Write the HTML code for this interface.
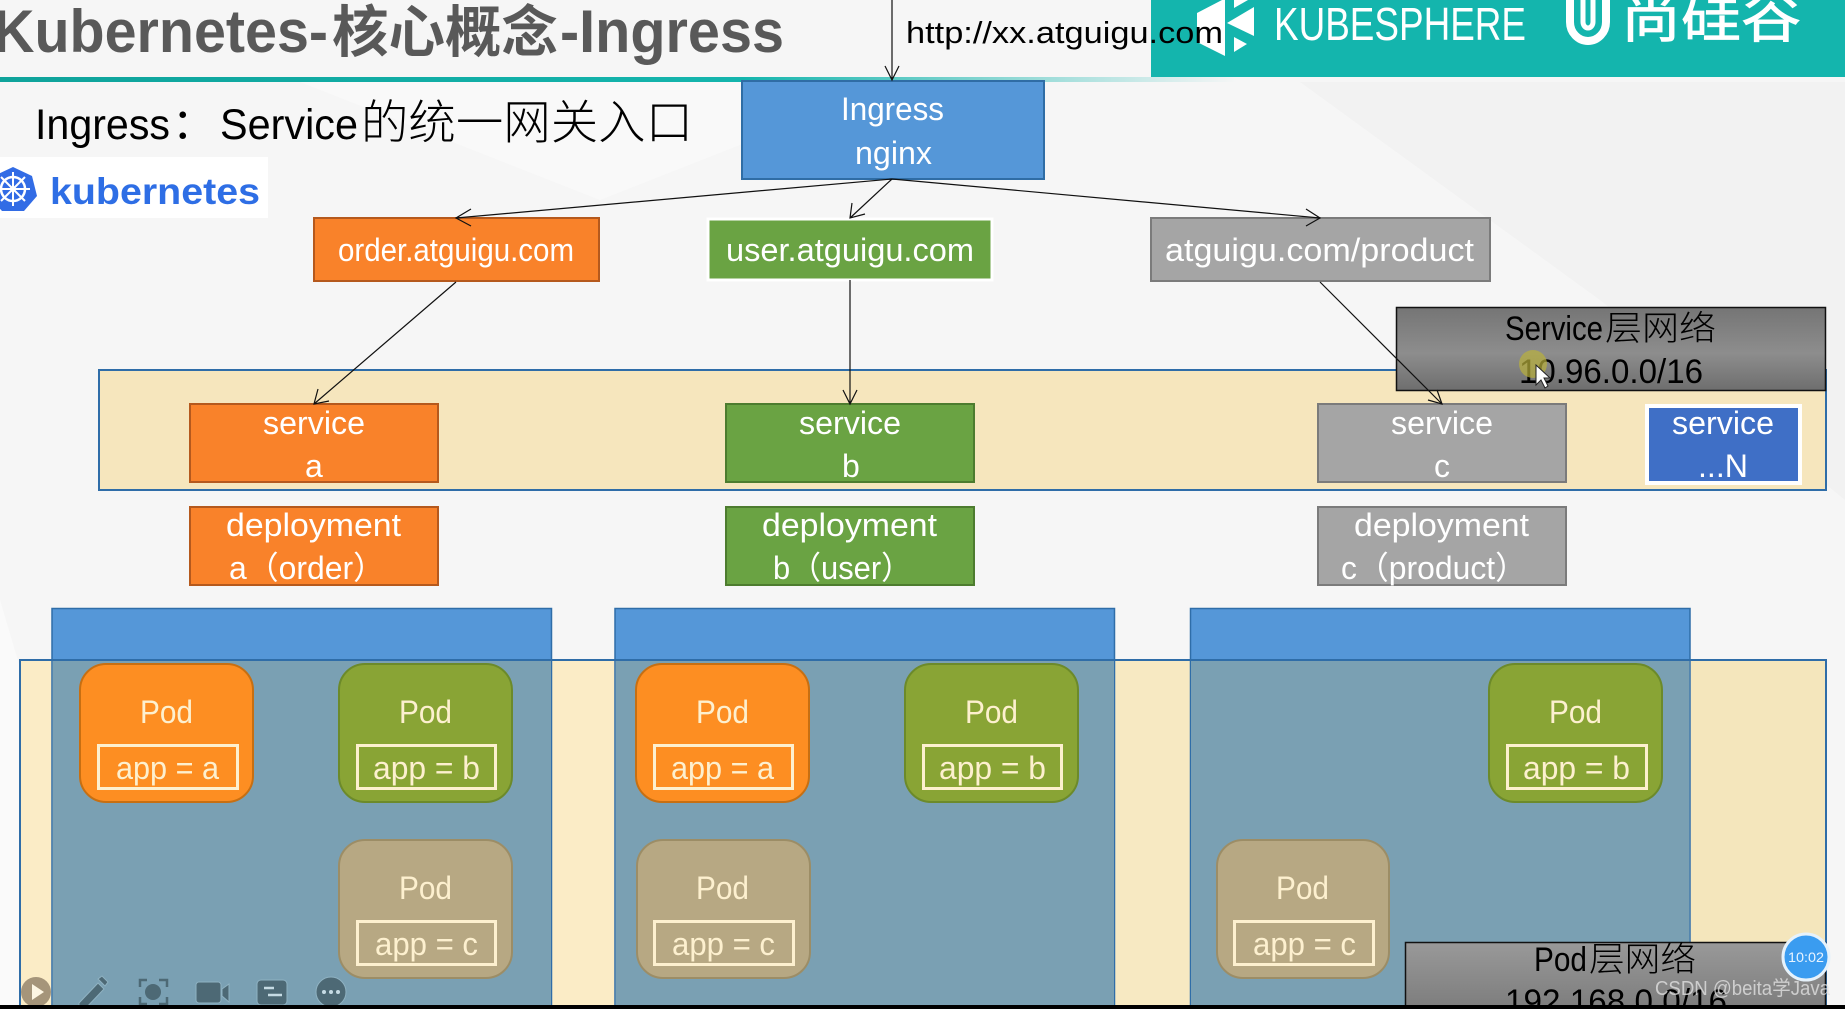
<!DOCTYPE html>
<html><head><meta charset="utf-8"><title>Kubernetes Ingress</title>
<style>
html,body{margin:0;padding:0;width:1845px;height:1009px;overflow:hidden;background:#f6f6f6}
svg{display:block}
text{font-family:"Liberation Sans","Noto Sans CJK SC",sans-serif}
.w{fill:#fff;font-size:32px}
.p{fill:#fdf0cf;font-size:32px}
.k{fill:#000;font-size:34px}
.a{fill:none;stroke:#111;stroke-width:1.2}
.i{fill:#4d6975;stroke:#8fb2c2;stroke-width:1}
</style></head><body>
<svg width="1845" height="1009" viewBox="0 0 1845 1009" xmlns="http://www.w3.org/2000/svg">
<defs>
<linearGradient id="hl" x1="0" x2="1" y1="0" y2="0"><stop offset="0" stop-color="#0fa39b"/><stop offset=".6" stop-color="#14b5ad"/><stop offset="1" stop-color="#14b5ad" stop-opacity="0"/></linearGradient>
<linearGradient id="gb" x1="0" x2="0" y1="0" y2="1"><stop offset="0" stop-color="#757575"/><stop offset=".55" stop-color="#8d8d8d"/><stop offset="1" stop-color="#6e6e6e"/></linearGradient>
<linearGradient id="gb2" x1="0" x2="0" y1="0" y2="1"><stop offset="0" stop-color="#999"/><stop offset="1" stop-color="#777"/></linearGradient>
</defs>
<rect width="1845" height="1009" fill="#f6f6f6"/>
<polygon points="1300,82 1845,82 1845,500 1600,300" fill="#f2f2f2"/>
<polygon points="0,600 120,1005 0,1005" fill="#fafafa"/>
<polygon points="300,82 900,82 600,200" fill="#f9f9f9"/>

<!-- header -->
<rect x="0" y="77" width="1237" height="5" fill="url(#hl)"/>
<rect x="1151" y="0" width="694" height="77" fill="#14b5ad"/>
<polygon points="1197,13 1222,0 1225,0 1225,56 1197,42" fill="#fff"/>
<polygon points="1227,23 1254,7 1254,36" fill="#fff"/>
<polygon points="1234,0 1248,0 1234,8" fill="#fff"/>
<polygon points="1234,37 1247,44 1234,52" fill="#fff"/>
<text x="1274" y="40" font-size="46" fill="#fff" textLength="252" lengthAdjust="spacingAndGlyphs">KUBESPHERE</text>
<path d="M1570,0 V22 A18,19 0 0 0 1606,22 V0" fill="none" stroke="#fff" stroke-width="8"/>
<path d="M1583,0 V22 A5,6 0 0 0 1593,22 V0" fill="none" stroke="#fff" stroke-width="5"/>
<text x="1621" y="37" font-size="54" fill="#fff" stroke="#fff" stroke-width=".8" textLength="180" lengthAdjust="spacingAndGlyphs" style="font-family:'Noto Sans CJK SC',sans-serif">尚硅谷</text>

<text x="-7" y="52" font-size="60" font-weight="700" fill="#595959" textLength="335" lengthAdjust="spacingAndGlyphs">Kubernetes-</text>
<text x="332" y="52" font-size="56" font-weight="700" fill="#595959" textLength="226" lengthAdjust="spacingAndGlyphs" style="font-family:'Noto Sans CJK SC',sans-serif">核心概念</text>
<text x="560" y="52" font-size="60" font-weight="700" fill="#595959" textLength="224" lengthAdjust="spacingAndGlyphs">-Ingress</text>

<text x="906" y="43" font-size="31" fill="#000" textLength="317" lengthAdjust="spacingAndGlyphs">http://xx.atguigu.com</text>

<text x="35" y="139" font-size="43" fill="#000" textLength="135" lengthAdjust="spacingAndGlyphs">Ingress</text>
<text x="172" y="139" font-size="43" fill="#000">：</text>
<text x="220" y="139" font-size="43" fill="#000" textLength="138" lengthAdjust="spacingAndGlyphs">Service</text>
<text x="361" y="139" font-size="47" fill="#000" textLength="332" lengthAdjust="spacingAndGlyphs" style="font-family:'Noto Sans CJK SC',sans-serif;font-weight:300">的统一网关入口</text>

<!-- k8s logo -->
<rect x="0" y="157" width="268" height="61" fill="#fff"/>
<polygon points="13,167 32,176 37,196 24,211 2,211 -11,196 -6,176" fill="#326ce5"/>
<circle cx="13" cy="189" r="12" fill="none" stroke="#fff" stroke-width="2.5"/>
<path d="M13,172 V206 M-3,189 H30 M1,177 L25,201 M25,177 L1,201" stroke="#fff" stroke-width="2"/>
<circle cx="13" cy="189" r="3" fill="#fff"/>
<text x="50" y="204" font-size="37" font-weight="700" fill="#2e6ee5" textLength="210" lengthAdjust="spacingAndGlyphs">kubernetes</text>

<!-- service band -->
<rect x="99" y="370" width="1727" height="120" fill="#f6e6bd" stroke="#2f6da8" stroke-width="2"/>

<!-- top boxes -->
<rect x="742" y="81" width="302" height="98" fill="#5597d8" stroke="#2f6da5" stroke-width="2"/>
<text class="w" x="841" y="120" textLength="103" lengthAdjust="spacingAndGlyphs">Ingress</text>
<text class="w" x="855" y="164" textLength="77" lengthAdjust="spacingAndGlyphs">nginx</text>

<rect x="314" y="218" width="285" height="63" fill="#f9822a" stroke="#b5591d" stroke-width="2"/>
<text class="w" x="338" y="261" textLength="236" lengthAdjust="spacingAndGlyphs">order.atguigu.com</text>
<rect x="708" y="219" width="284" height="61" fill="#6aa343" stroke="#fff" stroke-width="3"/>
<text class="w" x="726" y="261" textLength="248" lengthAdjust="spacingAndGlyphs">user.atguigu.com</text>
<rect x="1151" y="218" width="339" height="63" fill="#a5a5a5" stroke="#7b7b7b" stroke-width="2"/>
<text class="w" x="1165" y="261" textLength="309" lengthAdjust="spacingAndGlyphs">atguigu.com/product</text>

<!-- services -->
<rect x="190" y="404" width="248" height="78" fill="#f9822a" stroke="#b5591d" stroke-width="2"/>
<text class="w" x="263" y="434" textLength="102" lengthAdjust="spacingAndGlyphs">service</text>
<text class="w" x="305" y="477">a</text>
<rect x="726" y="404" width="248" height="78" fill="#6aa343" stroke="#4d7c2f" stroke-width="2"/>
<text class="w" x="799" y="434" textLength="102" lengthAdjust="spacingAndGlyphs">service</text>
<text class="w" x="842" y="477">b</text>
<rect x="1318" y="404" width="248" height="78" fill="#a5a5a5" stroke="#7b7b7b" stroke-width="2"/>
<text class="w" x="1391" y="434" textLength="102" lengthAdjust="spacingAndGlyphs">service</text>
<text class="w" x="1434" y="477">c</text>
<rect x="1647" y="406" width="153" height="77" fill="#3f6fc6" stroke="#fff" stroke-width="4"/>
<text class="w" x="1672" y="434" textLength="102" lengthAdjust="spacingAndGlyphs">service</text>
<text class="w" x="1698" y="477" textLength="50" lengthAdjust="spacingAndGlyphs">...N</text>

<!-- deployments -->
<rect x="190" y="507" width="248" height="78" fill="#f9822a" stroke="#b5591d" stroke-width="2"/>
<text class="w" x="226" y="536" textLength="175" lengthAdjust="spacingAndGlyphs">deployment</text>
<text class="w" x="229" y="579" textLength="156" lengthAdjust="spacingAndGlyphs">a（order）</text>
<rect x="726" y="507" width="248" height="78" fill="#6aa343" stroke="#4d7c2f" stroke-width="2"/>
<text class="w" x="762" y="536" textLength="175" lengthAdjust="spacingAndGlyphs">deployment</text>
<text class="w" x="773" y="579" textLength="139" lengthAdjust="spacingAndGlyphs">b（user）</text>
<rect x="1318" y="507" width="248" height="78" fill="#a5a5a5" stroke="#7b7b7b" stroke-width="2"/>
<text class="w" x="1354" y="536" textLength="175" lengthAdjust="spacingAndGlyphs">deployment</text>
<text class="w" x="1341" y="579" textLength="186" lengthAdjust="spacingAndGlyphs">c（product）</text>

<!-- service net box -->
<rect x="1396.5" y="307.5" width="429" height="83" fill="url(#gb)" stroke="#111" stroke-width="1.5"/>
<text class="k" x="1505" y="340" textLength="98" lengthAdjust="spacingAndGlyphs">Service</text>
<text class="k" x="1605" y="340" textLength="111" lengthAdjust="spacingAndGlyphs" style="font-family:'Noto Sans CJK SC',sans-serif;font-weight:300">层网络</text>
<text class="k" x="1519" y="383" textLength="184" lengthAdjust="spacingAndGlyphs">10.96.0.0/16</text>
<circle cx="1533" cy="364" r="14" fill="#b9b13c" opacity=".7"/>
<polygon points="1536,365 1536,385 1541,380 1545,388 1548,386 1544,378 1550,378" fill="#fff" stroke="#222" stroke-width="1"/>

<!-- pod band and node boxes -->
<rect x="20" y="660" width="1806" height="345" fill="#fbecc6"/>
<rect x="1115" y="661" width="76" height="344" fill="#f7e9c2"/>
<rect x="1691" y="661" width="134" height="344" fill="#f4e6bc"/>
<rect x="52" y="608.5" width="499.5" height="400" fill="#5597d8" stroke="#2f6da8" stroke-width="1.5"/>
<rect x="615" y="608.5" width="499.5" height="400" fill="#5597d8" stroke="#2f6da8" stroke-width="1.5"/>
<rect x="1190.5" y="608.5" width="499.5" height="400" fill="#5597d8" stroke="#2f6da8" stroke-width="1.5"/>
<rect x="52.5" y="661" width="498.5" height="344" fill="#7aa0b3"/>
<rect x="615.5" y="661" width="498.5" height="344" fill="#7aa0b3"/>
<rect x="1191" y="661" width="498.5" height="344" fill="#7aa0b3"/>
<rect x="20" y="660" width="1806" height="360" fill="none" stroke="#2f6da8" stroke-width="2"/>

<!-- pods col 1 -->
<rect x="80" y="664" width="173" height="138" rx="26" fill="#fd8e22" stroke="#c76f12" stroke-width="2"/>
<text class="p" x="140" y="723" textLength="53" lengthAdjust="spacingAndGlyphs">Pod</text>
<rect x="98.5" y="745.5" width="139" height="43" fill="none" stroke="#fdf0cf" stroke-width="3"/>
<text class="p" x="116" y="779" textLength="103" lengthAdjust="spacingAndGlyphs">app = a</text>

<rect x="339" y="664" width="173" height="138" rx="26" fill="#89a435" stroke="#6c8a2a" stroke-width="2"/>
<text class="p" x="399" y="723" textLength="53" lengthAdjust="spacingAndGlyphs">Pod</text>
<rect x="357.5" y="745.5" width="138" height="43" fill="none" stroke="#fdf0cf" stroke-width="3"/>
<text class="p" x="373" y="779" textLength="107" lengthAdjust="spacingAndGlyphs">app = b</text>

<rect x="339" y="840" width="173" height="138" rx="26" fill="#b7a883" stroke="#9c8d66" stroke-width="2"/>
<text class="p" x="399" y="899" textLength="53" lengthAdjust="spacingAndGlyphs">Pod</text>
<rect x="357.5" y="921.5" width="138" height="43" fill="none" stroke="#fdf0cf" stroke-width="3"/>
<text class="p" x="375" y="955" textLength="103" lengthAdjust="spacingAndGlyphs">app = c</text>

<!-- pods col 2 -->
<rect x="636" y="664" width="173" height="138" rx="26" fill="#fd8e22" stroke="#c76f12" stroke-width="2"/>
<text class="p" x="696" y="723" textLength="53" lengthAdjust="spacingAndGlyphs">Pod</text>
<rect x="654.5" y="745.5" width="138" height="43" fill="none" stroke="#fdf0cf" stroke-width="3"/>
<text class="p" x="671" y="779" textLength="103" lengthAdjust="spacingAndGlyphs">app = a</text>

<rect x="905" y="664" width="173" height="138" rx="26" fill="#89a435" stroke="#6c8a2a" stroke-width="2"/>
<text class="p" x="965" y="723" textLength="53" lengthAdjust="spacingAndGlyphs">Pod</text>
<rect x="923.5" y="745.5" width="138" height="43" fill="none" stroke="#fdf0cf" stroke-width="3"/>
<text class="p" x="939" y="779" textLength="107" lengthAdjust="spacingAndGlyphs">app = b</text>

<rect x="637" y="840" width="173" height="138" rx="26" fill="#b7a883" stroke="#9c8d66" stroke-width="2"/>
<text class="p" x="696" y="899" textLength="53" lengthAdjust="spacingAndGlyphs">Pod</text>
<rect x="654.5" y="921.5" width="139" height="43" fill="none" stroke="#fdf0cf" stroke-width="3"/>
<text class="p" x="672" y="955" textLength="103" lengthAdjust="spacingAndGlyphs">app = c</text>

<!-- pods col 3 -->
<rect x="1489" y="664" width="173" height="138" rx="26" fill="#89a435" stroke="#6c8a2a" stroke-width="2"/>
<text class="p" x="1549" y="723" textLength="53" lengthAdjust="spacingAndGlyphs">Pod</text>
<rect x="1507.5" y="745.5" width="139" height="43" fill="none" stroke="#fdf0cf" stroke-width="3"/>
<text class="p" x="1523" y="779" textLength="107" lengthAdjust="spacingAndGlyphs">app = b</text>

<rect x="1217" y="840" width="172" height="138" rx="26" fill="#b7a883" stroke="#9c8d66" stroke-width="2"/>
<text class="p" x="1276" y="899" textLength="53" lengthAdjust="spacingAndGlyphs">Pod</text>
<rect x="1234.5" y="921.5" width="139" height="43" fill="none" stroke="#fdf0cf" stroke-width="3"/>
<text class="p" x="1253" y="955" textLength="103" lengthAdjust="spacingAndGlyphs">app = c</text>

<!-- connectors -->
<path class="a" d="M892,0 V80 M885,66 L892,80 L899,66"/>
<path class="a" d="M892,179 L456,218 M471,209 L456,218 L471,226"/>
<path class="a" d="M892,179 L850,218 M852,203 L850,218 L865,214"/>
<path class="a" d="M892,179 L1320,218 M1306,209 L1320,218 L1306,226"/>
<path class="a" d="M456,282 L314,404 M318,389 L314,404 L329,401"/>
<path class="a" d="M850,280 V404 M843,390 L850,404 L857,390"/>
<path class="a" d="M1320,282 L1442,404 M1428,400 L1442,404 L1437,390"/>

<!-- pod net box -->
<rect x="1405.5" y="942.5" width="420" height="80" fill="url(#gb2)" stroke="#111" stroke-width="1.5"/>
<text class="k" x="1534" y="971" textLength="53" lengthAdjust="spacingAndGlyphs">Pod</text>
<text class="k" x="1589" y="971" textLength="107" lengthAdjust="spacingAndGlyphs" style="font-family:'Noto Sans CJK SC',sans-serif;font-weight:300">层网络</text>
<text class="k" x="1505" y="1013" textLength="222" lengthAdjust="spacingAndGlyphs">192.168.0.0/16</text>

<!-- toolbar icons -->
<circle cx="36" cy="992" r="15" fill="#a5957a"/>
<polygon points="32,984 44,992 32,1000" fill="#fdf6e3"/>
<polygon class="i" points="79,1003 98,983 104,989 85,1009 79,1009"/>
<polygon class="i" points="98,979 102,976 108,982 105,986"/>
<circle cx="153" cy="992" r="8" fill="#4d6975"/>
<path d="M140,987 V980 H147 M159,980 H167 V987 M167,997 V1004 H159 M147,1004 H140 V997" fill="none" stroke="#4d6975" stroke-width="2.5"/>
<rect class="i" x="196" y="982" width="25" height="21" rx="3"/>
<polygon class="i" points="222,989 229,984 229,1002 222,996"/>
<rect class="i" x="257" y="980" width="30" height="25" rx="4"/>
<path d="M264,988 H274 M268,995 H282" stroke="#c6dbe4" stroke-width="2.5"/>
<circle class="i" cx="331" cy="992" r="15"/>
<circle cx="324" cy="992" r="2" fill="#c6dbe4"/><circle cx="331" cy="992" r="2" fill="#c6dbe4"/><circle cx="338" cy="992" r="2" fill="#c6dbe4"/>

<!-- timer and watermark -->
<circle cx="1806" cy="957" r="23" fill="#3a9cf0" stroke="#e6f2fb" stroke-width="3"/>
<text x="1788" y="962" font-size="14" fill="#e8f4ff" textLength="36" lengthAdjust="spacingAndGlyphs">10:02</text>
<text x="1655" y="995" font-size="20" fill="#e0e0e0" fill-opacity=".8" textLength="175" lengthAdjust="spacingAndGlyphs">CSDN @beita学Java</text>

<rect x="0" y="1005" width="1845" height="4" fill="#000"/>
</svg>
</body></html>
